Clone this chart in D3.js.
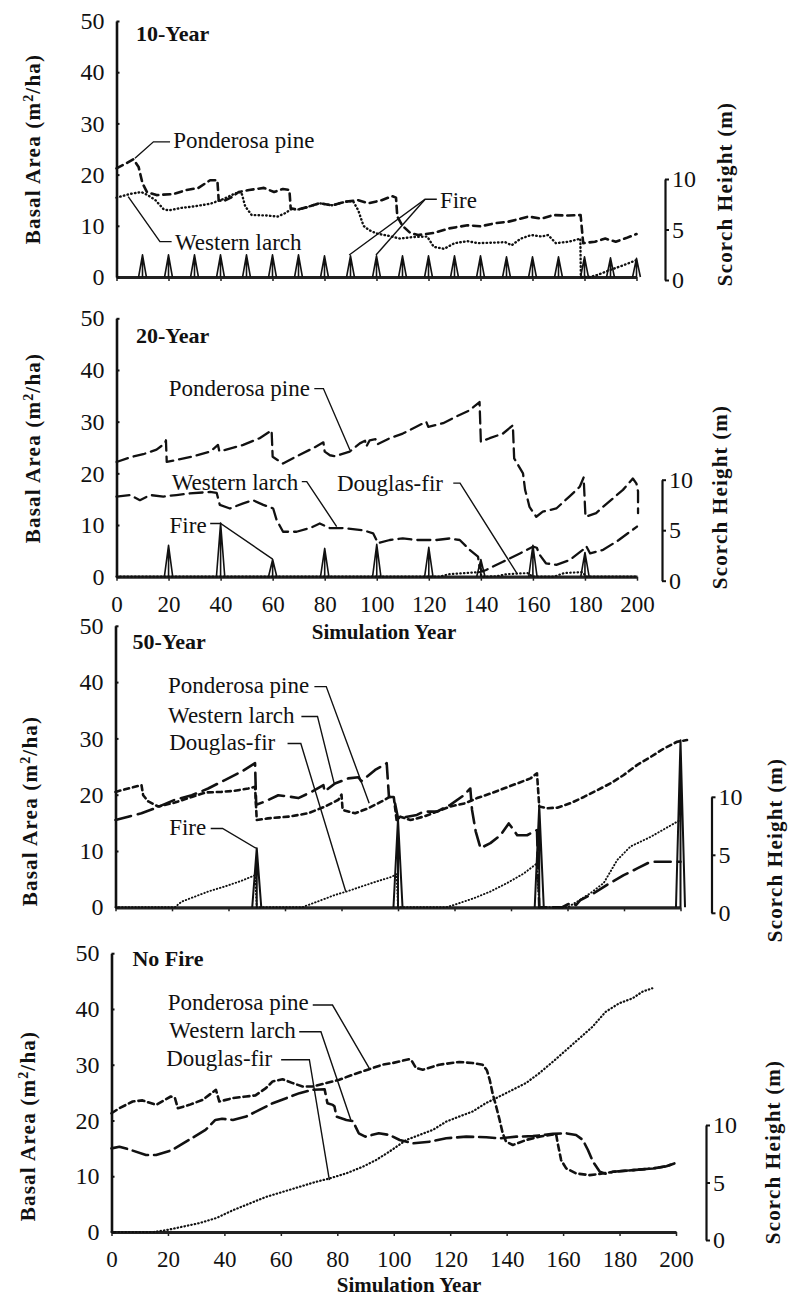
<!DOCTYPE html>
<html>
<head>
<meta charset="utf-8">
<script src="https://cdn.jsdelivr.net/npm/d3@7/dist/d3.min.js"></script>
<style>
	body { margin: 0; background: #fff; }
	svg { display: block; }
	text { font-family: "Liberation Serif", "Times New Roman", serif; fill: #111; }
</style>
</head>
<body>
<script type="text/javascript">
	// ---------- data: [simulation year, basal area m2/ha] ----------
	// 10-Year fire interval
	var tenPonderosa = [[0,21.2],[3,22],[6.5,23],[8.5,21.5],[10,18.3],[11.7,16.6],[15.4,16],[21.9,16.2],[27,17],[31.5,17.4],[36,18.9],[38.8,18.9],[39.3,15],[41,14.8],[44,15.5],[47,16.6],[51,17],[56.7,17.4],[60.6,16.6],[64,17.2],[66.5,17],[67,13.4],[70,13.2],[73,13.6],[78,14.4],[83,14],[88,14.7],[93,15],[97,14.4],[102,15],[106,15.8],[107.5,15.5],[108,11.8],[110,10],[113,8.6],[116,8.2],[122,8.6],[128,9.5],[135,10.1],[140,9.9],[145.6,10.5],[150.7,10.8],[158.4,11.8],[163.5,11.4],[168,12.1],[173.8,12],[178.5,12.1],[179.5,6.6],[184,6.9],[188,7.5],[192,6.9],[196,7.6],[200,8.4]];
	var tenLarch = [[0,15.5],[5,16.2],[9.5,16.6],[12,16],[15,15],[18,13.3],[20,13],[25,13.5],[30,13.8],[36,14.3],[41,15.2],[45.5,16.3],[48,16.6],[49.5,13.8],[52,12.1],[58,12],[62,11.8],[65,12.5],[67,13.2],[70,13.2],[73,13.6],[78,14.4],[83,14],[88,14.7],[91,14.8],[93,13],[95,10],[97,9.2],[100,8.5],[105,8],[109,7.5],[114,7.8],[119.5,7.9],[122,5.9],[126,5.5],[130,6.6],[135,7],[139,6.6],[145,6.7],[149.5,6.8],[152,6.2],[155.5,7.5],[159.5,8.2],[163.5,7.9],[166,8.2],[169,6.6],[174,6.9],[178.4,7.5],[178.6,0],[182,0],[185,0.4],[190,1.4],[195,2.3],[200,3.3]];
	var tenFireYears = [10,20,30,40,50,60,70,80,90,100,110,120,130,140,150,160,170,180,190,200];
	var tenScorch = [2.2,2.2,2.2,2.2,2.2,2.2,2.2,2.1,2.1,2.1,2.1,2.1,2.1,2.1,2.0,2.0,2.0,2.0,1.9,1.85];

	// 20-Year fire interval
	var twentyPonderosa = [[0,22.2],[5.2,23.1],[10.3,23.7],[15.4,24.6],[18.6,25.8],[19,26.4],[19.3,22.2],[23,22.6],[29.5,23.3],[36,24.2],[39,25.5],[39.5,24.3],[41.5,24.5],[48.7,25.5],[55,26.8],[59.6,28.3],[60,23.2],[64,21.9],[70,23.5],[76,25],[79.5,26],[80,24.2],[82,23.5],[84,23.3],[89.6,24.2],[93.5,25.8],[95.5,26.3],[96,25.2],[97.3,26.4],[99.5,26.6],[100.2,25.6],[105,26.8],[110,27.7],[115.2,29],[119,30],[119.8,29],[125.5,29.7],[130.6,31],[135.7,32.2],[139.5,33.8],[140,26.1],[143.4,26.8],[148.5,27.7],[152.3,29.3],[152.8,22.9],[156.2,20],[157,16.8],[157.7,15.5],[158.7,13.5],[161.3,11.6],[163.8,12.6],[169,13.2],[174,15.5],[178,17.4],[179.5,19.2],[180.2,11.6],[184.3,12.3],[186.9,13.5],[194.6,16.8],[198.4,19],[199.8,18],[200.4,16.5],[200.4,12.3]];
	var twentyLarch = [[0,15.5],[5.2,15.8],[9,14.8],[12.9,15.8],[18,15.5],[23,15.8],[28,16.1],[35.9,16.4],[38.5,16.2],[39.7,13.9],[43.6,13.2],[48.7,14.2],[52.5,14.8],[56.4,13.9],[60.2,13.2],[61.5,11],[64,8.7],[69.2,8.7],[74.3,9.4],[78.1,10.3],[82,9.4],[87,9.4],[94.7,9],[98.6,8.4],[100.5,6.5],[105,7.1],[110,7.4],[115,7.1],[123,7.1],[128,7.4],[131.9,7.1],[135.7,5.2],[138.9,3.9],[139.5,1.9],[140.5,1],[142,1.3],[148.5,2.9],[155,4.5],[160,5.8],[161.5,5.6],[162.5,4.3],[165,2.6],[169,2.3],[174,3.2],[179.2,5.2],[180.5,5.9],[182,4.5],[187,5.2],[193,7.1],[200,9.7]];
	var twentyDouglas = [[0,0],[124,0],[128,0.5],[134,0.7],[139.5,0.9],[140.5,0],[146,0.1],[150,0.5],[158,0.7],[160,0],[168,0],[172,0.7],[179,0.9],[180.5,0],[200,0]];
	var twentyFireYears = [20,40,60,80,100,120,140,160,180];
	var twentyScorch = [3.1,5.3,1.7,2.8,3.2,2.9,1.7,3.1,2.4];

	// 50-Year fire interval
	var fiftyPonderosa = [[0,20.5],[4.5,21.1],[9.2,21.7],[9.8,19.9],[11.6,18.8],[15.1,17.9],[21,18.6],[27,19.6],[32,20.4],[37.5,20.5],[42.2,20.7],[47,21.1],[49.4,21.4],[50,15.5],[54,15.8],[61.2,16.1],[68.2,16.7],[74.2,17.9],[78.9,19.1],[80,20],[80.4,17.3],[84.8,16.7],[89.5,17.6],[94.2,18.8],[97,19.6],[98.5,19.6],[99.5,15.5],[100.8,16.1],[104.4,15.5],[109,16.1],[113.8,17],[118.5,17.9],[123.9,18.5],[128,19.4],[132.7,20.2],[137.4,21.1],[142.2,22],[146.9,22.9],[149.2,23.8],[150,17.9],[152.8,17.6],[156.4,17.7],[161.1,18.5],[165.8,19.6],[170.5,20.8],[175.2,22],[179.9,23.5],[184.7,25.3],[189.4,26.7],[194.1,28.2],[198.8,29.4],[202.3,29.7]];
	var fiftyLarch = [[0,15.5],[4.5,16.1],[9.2,16.7],[14,17.6],[21,19.1],[27,19.9],[32.8,21.1],[38.7,22.6],[44.6,24.1],[49.4,25.6],[49.8,18.2],[52.9,18.8],[57.6,19.9],[61,19.7],[64.7,19.4],[69.4,20.5],[73.6,21.7],[74,20.6],[77.7,22],[82.4,22.9],[86,23.1],[87,22.4],[91.9,24.4],[96,25.6],[96.8,19.6],[98.5,19.6],[100,15.8],[106.7,16.4],[109,17],[113.8,17],[118.5,18.2],[123.3,19.9],[125.6,21.1],[126.2,17.3],[127.5,13.5],[129.2,10.5],[132.7,11.4],[136.3,12.8],[139.2,14.9],[141,13.7],[142.2,12.8],[145.7,12.8],[149.2,13.7],[150,0],[158,0],[160,0.5],[161.5,0.8],[163,0.4],[164.6,1.3],[169.3,2.5],[174,4],[179.9,5.7],[184.7,6.9],[189.4,8.1],[195.3,8.1],[200,8.1]];
	var fiftyDouglas = [[0,0],[21,0],[23.4,1],[32.8,2.8],[38.7,3.7],[44.6,4.7],[49.4,5.7],[50,0],[66,0],[68.2,0.4],[73,1.3],[77.7,2.2],[81.8,2.8],[87.1,3.7],[91.9,4.5],[97.7,5.4],[99.5,5.9],[100,0],[117,0],[119.7,0.4],[126.8,1.6],[132.7,2.8],[138.6,4.3],[144.5,6],[149.2,7.8],[150,0],[160,0],[163.4,1],[168.1,2.5],[172.8,4.3],[177.6,8.4],[182.3,10.8],[189.4,12.5],[198.8,15.2],[200,15.5]];
	var fiftyFireYears = [50,100,150,200];
	var fiftyScorch = [5.1,7.6,8.8,14.4];

	// No fire
	var noFirePonderosa = [[0,21.3],[2.8,22.2],[7.5,23.4],[11,23.6],[15.8,22.8],[21,24.3],[22.5,24],[23.5,22.2],[27.6,22.8],[32.3,23.7],[37,25.5],[38.2,23.4],[42.9,24],[47.7,24.3],[51,24.5],[54.7,25.8],[57.1,27],[60.6,27.4],[64.2,26.7],[67.7,26.1],[71.3,26.1],[76,26.7],[80.7,27.3],[85.4,28.2],[91.3,29.2],[96,30],[99.6,30.3],[105.5,31],[106.5,30.6],[107.9,29.4],[110.3,29.1],[116.1,30],[123.2,30.5],[127.9,30.3],[131.5,30],[133,29],[134,27.3],[135,24.9],[136.3,22.5],[137.5,20.1],[138.6,17.7],[139.8,16.2],[142.2,15.6],[146.9,16.5],[151.6,17.1],[157.5,17.6],[158.1,15.9],[159.3,12.9],[161.1,11.4],[164.6,10.5],[169.4,10.2],[172.9,10.4],[175.3,10.6],[177.7,10.8],[184.8,11.1],[191.9,11.4],[196.6,11.8],[200,12.4]];
	var noFireLarch = [[0,15],[2.8,15.3],[6.3,14.8],[12.2,13.8],[15.8,13.8],[21.5,14.7],[27.4,16.5],[33.3,18.3],[36.8,20.1],[39.2,20.3],[43,20.1],[47.7,20.7],[52.4,21.9],[57.1,23.1],[61.9,24],[66.6,24.9],[71.3,25.5],[75.5,25.6],[76.5,23.1],[78.4,22.8],[79,22.5],[79.7,20.7],[83.2,20.1],[85.5,19.9],[87.6,17.7],[89.9,17.1],[94.7,17.7],[98.5,17.4],[102.1,16.5],[106.8,15.9],[112.7,16.2],[118.6,16.8],[125.7,17.1],[132.8,17],[137.5,16.8],[143.4,17.1],[149.3,17.2],[156.4,17.6],[161.1,17.7],[164.6,17.4],[167,16.5],[168.8,14.7],[170.6,12.6],[173,10.8],[175.3,10.4],[177.7,10.8],[184.8,11.1],[191.9,11.4],[196.6,11.8],[200,12.4]];
	var noFireDouglas = [[0,0],[15,0],[19,0.3],[22.9,0.7],[31.2,1.6],[37.1,2.5],[43,3.9],[48.9,5.1],[54.8,6.3],[60.7,7.2],[66.6,8.1],[72.5,9],[77.2,9.6],[83.1,10.5],[89,11.7],[93.7,12.9],[98.4,14.4],[104.4,16.5],[109.1,17.4],[113.8,18.3],[118.6,19.8],[123.2,20.7],[127.9,21.6],[132.6,23.1],[137.4,24.3],[142.1,25.5],[146.8,26.7],[151.6,28.5],[156.3,30.5],[161,32.6],[165.7,34.7],[170.4,36.8],[175.1,39.5],[179.8,41],[184.6,41.9],[188.1,43.1],[191.6,43.7]];

	// tick labels
	var basalTicks = [0,10,20,30,40,50];
	var scorchTicks = [0,5,10];
	var yearTicks = [0,20,40,60,80,100,120,140,160,180,200];

	// ---------- layout ----------
	var width = 789;
	var height = 1298;

	var svg = d3.select("body")
		.append("svg")
		.attr("width", width)
		.attr("height", height);

	svg.append("rect").attr("width", width).attr("height", height).attr("fill", "#fff");

	// one entry per panel: pixel box + which arrays it draws
	var panels = [
		{
			title: "10-Year", titleAt: [7.5, 47.6],
			x0: 116.5, x1: 636.5, y0: 277, y50: 21, rx: 665, rdy: 3, r10: 101, yearLabels: false,
			basalAt: [33, 149], scorchAt: [725, 194],
			series: [
				{ data: tenPonderosa, dash: "7,5", w: 2.6 },
				{ data: tenLarch, dash: "0.5,3.3", w: 2.4 }
			],
			fire: { years: tenFireYears, scorch: tenScorch, half: 1.5, w: 1.6 },
			labels: [
				{ text: "Ponderosa pine", at: [21.8, 26.8], leaders: [[[20.6,26.4],[14.2,26.4],[7.1,23.2]]] },
				{ text: "Western larch", at: [22.5, 6.9], leaders: [[[21.2,6.9],[16.7,6.9],[4.5,15.7]]] },
				{ text: "Fire", at: [124.4, 15], leaders: [[[123.2,15.2],[118.7,15.2],[89.5,4.3]], [[118.7,15.2],[99.8,4.3]]] }
			]
		},
		{
			title: "20-Year", titleAt: [7.5, 46.8],
			x0: 116.5, x1: 637, y0: 576.7, y50: 318.3, rx: 662, rdy: 4, r10: 101, yearLabels: true,
			basalAt: [33, 448], scorchAt: [720, 497], simAt: [384, 632],
			series: [
				{ data: twentyPonderosa, dash: "12,6", w: 2.3 },
				{ data: twentyLarch, dash: "13,6", w: 2.3 },
				{ data: twentyDouglas, dash: "0.5,3.2", w: 2.2 }
			],
			fire: { years: twentyFireYears, scorch: twentyScorch, half: 1.6, w: 1.6 },
			labels: [
				{ text: "Ponderosa pine", at: [20.1, 36.6], leaders: [[[76,36.4],[79.5,36.4],[89.7,24.5]]] },
				{ text: "Western larch", at: [21.2, 18.4], leaders: [[[71.2,18.4],[73.1,18.4],[84.6,9.7]]] },
				{ text: "Douglas-fir", at: [84.7, 18.2], leaders: [[[129.4,18.1],[132,18.1],[153.8,0.7]]] },
				{ text: "Fire", at: [20.4, 10], leaders: [[[36,10.3],[40,10.3],[60,3.4]]] }
			]
		},
		{
			title: "50-Year", titleAt: [6, 47.2],
			x0: 115.5, x1: 680.5, y0: 907.3, y50: 625.8, rx: 711.5, rdy: 5.5, r10: 116, yearLabels: false,
			basalAt: [30, 811], scorchAt: [775, 850],
			series: [
				{ data: fiftyPonderosa, dash: "5,4", w: 2.6 },
				{ data: fiftyLarch, dash: "16,7", w: 2.6 },
				{ data: fiftyDouglas, dash: "0.5,2.8", w: 1.9 }
			],
			fire: { years: fiftyFireYears, scorch: fiftyScorch, half: 1.6, w: 2 },
			labels: [
				{ text: "Ponderosa pine", at: [18.6, 39.5], leaders: [[[70.4,39.2],[74.6,39.2],[89.8,18.5]]] },
				{ text: "Western larch", at: [18.6, 34.2], leaders: [[[65.8,33.9],[71.5,33.9],[77.4,22]]] },
				{ text: "Douglas-fir", at: [19, 29.4], leaders: [[[60.9,29.1],[65.6,29.1],[81.5,2.8]]] },
				{ text: "Fire", at: [19, 14.3], leaders: [[[33.7,14],[37.9,14],[49.7,10.5]]] }
			]
		},
		{
			title: "No Fire", titleAt: [7.4, 49.1],
			x0: 111.5, x1: 676, y0: 1232, y50: 953.2, rx: 706, rdy: 8, r10: 115, yearLabels: true,
			basalAt: [28, 1126], scorchAt: [773, 1152], simAt: [409, 1285],
			series: [
				{ data: noFirePonderosa, dash: "6,4", w: 2.6 },
				{ data: noFireLarch, dash: "16,6", w: 2.6 },
				{ data: noFireDouglas, dash: "0.5,3", w: 2.2 }
			],
			fire: null,
			labels: [
				{ text: "Ponderosa pine", at: [19.9, 41.3], leaders: [[[71.3,40.7],[78.3,40.7],[91.3,29.4]]] },
				{ text: "Western larch", at: [20.5, 36.2], leaders: [[[66.5,35.9],[74.2,35.9],[84.8,20.1]]] },
				{ text: "Douglas-fir", at: [19.4, 31.2], leaders: [[[60.1,30.9],[70.1,30.9],[77.2,9.3]]] }
			]
		}
	];

	panels.forEach(function(p){
		//比例尺
		var x = d3.scaleLinear().domain([0, 200]).range([p.x0, p.x1]);
		var y = d3.scaleLinear().domain([0, 50]).range([p.y0, p.y50]);
		var s = d3.scaleLinear().domain([0, 10]).range([p.y0, p.y0 - p.r10]);

		var g = svg.append("g");

		//x轴
		var xAxis = d3.axisBottom(x)
			.tickValues(yearTicks)
			.tickSize(4)
			.tickSizeOuter(0)
			.tickFormat(p.yearLabels ? d3.format("d") : "");
		var gx = g.append("g")
			.attr("transform", "translate(0," + p.y0 + ")")
			.call(xAxis);
		gx.select(".domain").attr("stroke", "#222").attr("stroke-width", 3.2);
		gx.selectAll(".tick line").attr("stroke", "#222").attr("stroke-width", 1.5);
		gx.selectAll("text").attr("y", 27).attr("dy", "0.35em")
			.style("font-size", "23px");

		//左y轴
		var yAxis = d3.axisLeft(y)
			.tickValues(basalTicks)
			.tickSize(-3)
			.tickPadding(12)
			.tickSizeOuter(0);
		var gy = g.append("g")
			.attr("transform", "translate(" + p.x0 + ",0)")
			.call(yAxis);
		gy.select(".domain").attr("stroke", "#111").attr("stroke-width", 2.6);
		gy.selectAll(".tick line").attr("stroke", "#111").attr("stroke-width", 2);
		gy.selectAll("text").style("font-size", "24px");

		//右y轴 scorch height
		var rAxis = d3.axisRight(s)
			.tickValues(scorchTicks)
			.tickSize(4)
			.tickPadding(3)
			.tickSizeOuter(0);
		var gr = g.append("g")
			.attr("transform", "translate(" + p.rx + "," + p.rdy + ")")
			.call(rAxis);
		gr.select(".domain").attr("stroke", "#111").attr("stroke-width", 2.2);
		gr.selectAll(".tick line").attr("stroke", "#111").attr("stroke-width", 2);
		gr.selectAll("text").style("font-size", "24px");

		//曲线
		var line = d3.line()
			.x(function(d){ return x(d[0]); })
			.y(function(d){ return y(d[1]); });

		p.series.forEach(function(sr){
			g.append("path")
				.datum(sr.data)
				.attr("d", line)
				.attr("fill", "none")
				.attr("stroke", "#111")
				.attr("stroke-width", sr.w)
				.attr("stroke-dasharray", sr.dash)
				.attr("stroke-linecap", "round")
				.attr("stroke-linejoin", "round");
		});

		//火烧 scorch 尖峰
		if (p.fire) {
			var spike = d3.line()
				.x(function(d){ return x(d[0]); })
				.y(function(d){ return s(d[1]); });
			var f = p.fire;
			g.selectAll(".spike")
				.data(f.years)
				.enter()
				.append("path")
				.attr("d", function(t, i){
					var h = f.scorch[i];
					return spike([[t - f.half, 0], [t, h], [t + f.half, 0]]) + spike([[t, 0], [t, h]]);
				})
				.attr("fill", "none")
				.attr("stroke", "#111")
				.attr("stroke-width", f.w)
				.attr("stroke-linejoin", "round");
		}

		//标注
		var leader = d3.line()
			.x(function(d){ return x(d[0]); })
			.y(function(d){ return y(d[1]); });
		p.labels.forEach(function(lb){
			lb.leaders.forEach(function(l){
				g.append("path")
					.attr("d", leader(l))
					.attr("fill", "none")
					.attr("stroke", "#111")
					.attr("stroke-width", 1.4);
			});
			g.append("text")
				.attr("x", x(lb.at[0]))
				.attr("y", y(lb.at[1]))
				.attr("dy", "0.35em")
				.style("font-size", "23px")
				.text(lb.text);
		});

		//标题
		g.append("text")
			.attr("x", x(p.titleAt[0]))
			.attr("y", y(p.titleAt[1]))
			.attr("dy", "0.35em")
			.style("font-size", "22px")
			.style("font-weight", "bold")
			.text(p.title);

		//左轴标题
		var bt = g.append("text")
			.attr("transform", "translate(" + p.basalAt[0] + "," + p.basalAt[1] + ") rotate(-90)")
			.attr("text-anchor", "middle")
			.attr("dy", "0.35em")
			.style("font-size", "21px")
			.style("font-weight", "bold")
			.style("letter-spacing", "1.2px");
		bt.append("tspan").text("Basal Area (m");
		bt.append("tspan").attr("baseline-shift", "super").style("font-size", "14px").text("2");
		bt.append("tspan").text("/ha)");

		//右轴标题
		g.append("text")
			.attr("transform", "translate(" + p.scorchAt[0] + "," + p.scorchAt[1] + ") rotate(-90)")
			.attr("text-anchor", "middle")
			.attr("dy", "0.35em")
			.style("font-size", "21px")
			.style("font-weight", "bold")
			.style("letter-spacing", "1.2px")
			.text("Scorch Height (m)");

		if (p.simAt) {
			g.append("text")
				.attr("x", p.simAt[0])
				.attr("y", p.simAt[1])
				.attr("text-anchor", "middle")
				.attr("dy", "0.35em")
				.style("font-size", "21px")
				.style("font-weight", "bold")
				.text("Simulation Year");
		}
	});
</script>
</body>
</html>
